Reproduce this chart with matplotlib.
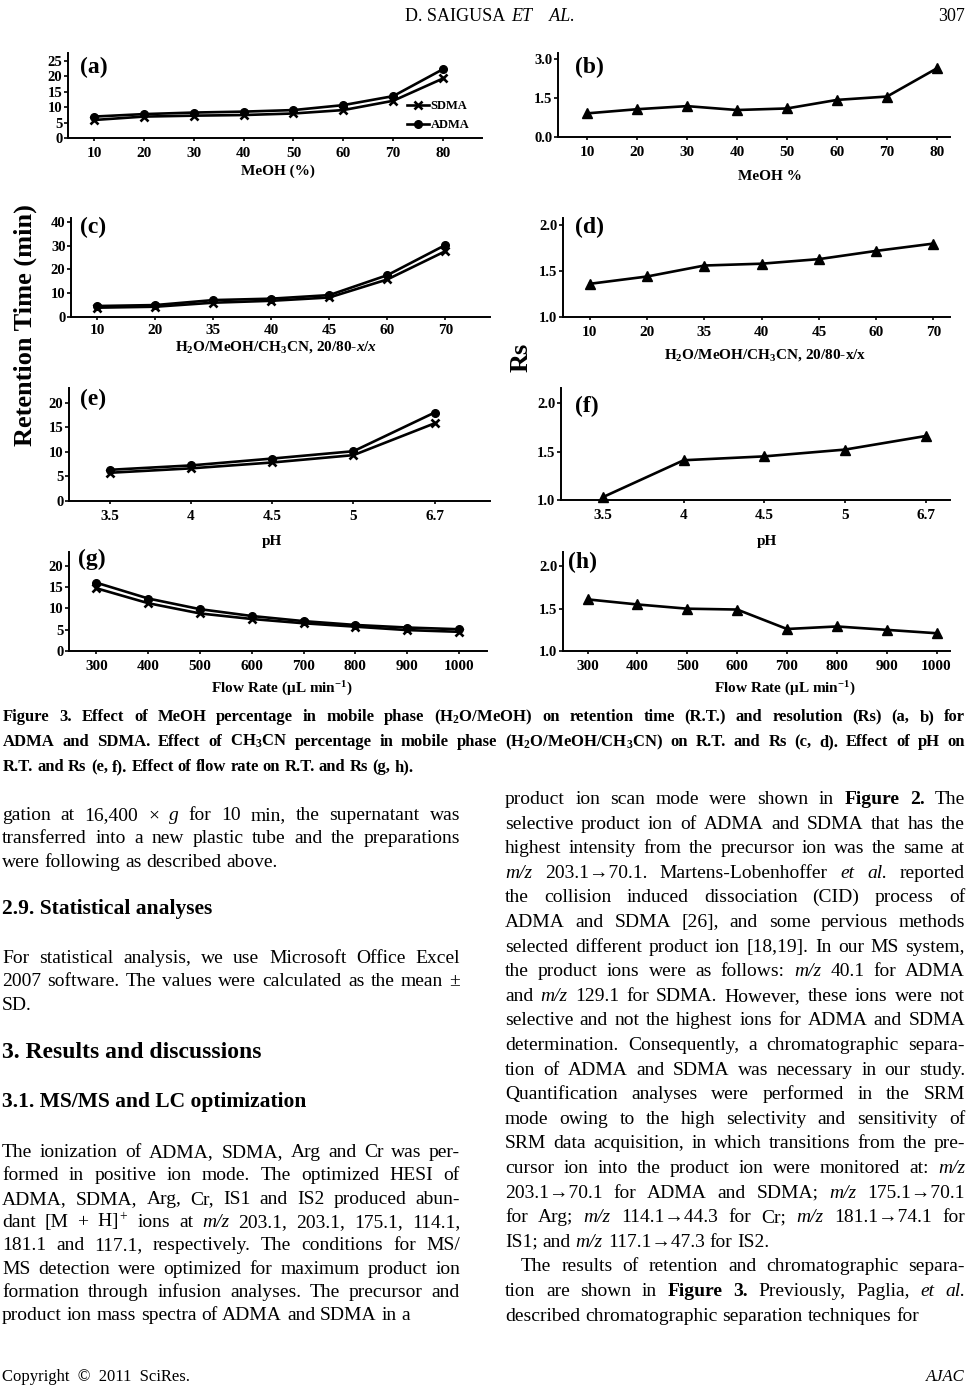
import matplotlib
matplotlib.use("Agg")
import matplotlib.pyplot as plt

W, H = 967, 1386

# --- data ---
meoh_pct = ["10", "20", "30", "40", "50", "60", "70", "80"]
rt_sdma_meoh = [5.9, 7.0, 7.3, 7.5, 8.0, 9.1, 12.1, 19.3]
rt_adma_meoh = [7.0, 7.8, 8.3, 8.6, 9.1, 10.7, 13.6, 22.3]
rs_meoh = [0.90, 1.06, 1.18, 1.03, 1.09, 1.42, 1.55, 2.64]

acn_pct = ["10", "20", "35", "40", "45", "60", "70"]
rt_sdma_acn = [3.8, 4.2, 5.9, 6.7, 8.1, 15.7, 27.6]
rt_adma_acn = [4.5, 4.9, 7.0, 7.6, 9.1, 17.5, 30.2]
rs_acn = [1.36, 1.44, 1.56, 1.58, 1.63, 1.72, 1.80]

ph_values = ["3.5", "4", "4.5", "5", "6.7"]
rt_sdma_ph = [5.7, 6.6, 7.8, 9.3, 15.8]
rt_adma_ph = [6.3, 7.2, 8.6, 10.1, 18.0]
rs_ph = [1.03, 1.41, 1.45, 1.52, 1.66]

flow_rates = ["300", "400", "500", "600", "700", "800", "900", "1000"]
rt_sdma_flow = [14.7, 11.2, 8.8, 7.5, 6.5, 5.7, 4.9, 4.5]
rt_adma_flow = [16.0, 12.3, 9.8, 8.2, 7.0, 6.1, 5.5, 5.1]
rs_flow = [1.61, 1.55, 1.50, 1.49, 1.26, 1.29, 1.25, 1.21]

caption_lines = [
    r"Figure 3. Effect of MeOH percentage in mobile phase $\mathbf{(H_2O/MeOH)}$ on retention time (R.T.) and resolution (Rs) (a, b) for",
    r"ADMA and SDMA. Effect of $\mathbf{CH_3CN}$ percentage in mobile phase $\mathbf{(H_2O/MeOH/CH_3CN)}$ on R.T. and Rs (c, d). Effect of pH on",
    "R.T. and Rs (e, f). Effect of flow rate on R.T. and Rs (g, h).",
]

left_par1 = [
    "gation at 16,400 × _g for 10 min, the supernatant was",
    "transferred into a new plastic tube and the preparations",
    "were following as described above.",
]
left_par2 = [
    "For statistical analysis, we use Microsoft Office Excel",
    "2007 software. The values were calculated as the mean ±",
    "SD.",
]
left_par3 = [
    "The ionization of ADMA, SDMA, Arg and Cr was per-",
    "formed in positive ion mode. The optimized HESI of",
    "ADMA, SDMA, Arg, Cr, IS1 and IS2 produced abun-",
    r"dant [M + H]$^+$ ions at _m/z 203.1, 203.1, 175.1, 114.1,",
    "181.1 and 117.1, respectively. The conditions for MS/",
    "MS detection were optimized for maximum product ion",
    "formation through infusion analyses. The precursor and",
    "product ion mass spectra of ADMA and SDMA in a",
]
right_par1 = [
    "product ion scan mode were shown in *Figure *2. The",
    "selective product ion of ADMA and SDMA that has the",
    "highest intensity from the precursor ion was the same at",
    "_m/z 203.1→70.1. Martens-Lobenhoffer _et _al. reported",
    "the collision induced dissociation (CID) process of",
    "ADMA and SDMA [26], and some pervious methods",
    "selected different product ion [18,19]. In our MS system,",
    "the product ions were as follows: _m/z 40.1 for ADMA",
    "and _m/z 129.1 for SDMA. However, these ions were not",
    "selective and not the highest ions for ADMA and SDMA",
    "determination. Consequently, a chromatographic separa-",
    "tion of ADMA and SDMA was necessary in our study.",
    "Quantification analyses were performed in the SRM",
    "mode owing to the high selectivity and sensitivity of",
    "SRM data acquisition, in which transitions from the pre-",
    "cursor ion into the product ion were monitored at: _m/z",
    "203.1→70.1 for ADMA and SDMA; _m/z 175.1→70.1",
    "for Arg; _m/z 114.1→44.3 for Cr; _m/z 181.1→74.1 for",
    "IS1; and _m/z 117.1→47.3 for IS2.",
]
right_par2 = [
    "The results of retention and chromatographic separa-",
    "tion are shown in *Figure *3. Previously, Paglia, _et _al.",
    "described chromatographic separation techniques for",
]

plt.rcParams["font.family"] = ["Liberation Serif", "DejaVu Serif"]
plt.rcParams["mathtext.fontset"] = "custom"
plt.rcParams["mathtext.rm"] = "Liberation Serif"
plt.rcParams["mathtext.it"] = "Liberation Serif:italic:bold"
plt.rcParams["mathtext.bf"] = "Liberation Serif:bold"


def fx(px):
    return px / W


def fy(py):
    return 1 - py / H


fig = plt.figure(figsize=(W / 100, H / 100), dpi=100)
renderer = fig.canvas.get_renderer()


def make_panel(box, xlim, ylim, yticks, ylabels, xlabels):
    left, top, right, bottom = box
    ax = fig.add_axes([fx(left), fy(bottom), (right - left) / W, (bottom - top) / H])
    ax.set_xlim(*xlim)
    ax.set_ylim(*ylim)
    for s in ("top", "right"):
        ax.spines[s].set_visible(False)
    for s in ("left", "bottom"):
        ax.spines[s].set_linewidth(1.4)
    ax.set_xticks(range(len(xlabels)), labels=xlabels, fontsize=11, fontweight="bold")
    ax.set_yticks(yticks, labels=ylabels, fontsize=10.5, fontweight="bold")
    ax.tick_params(axis="x", direction="out", length=2, width=1.2, pad=4.5)
    ax.tick_params(axis="y", direction="out", length=3, width=1.2, pad=1)
    ax.patch.set_alpha(0)
    return ax


def rt_lines(ax, sdma, adma):
    x = range(len(sdma))
    ax.plot(x, sdma, "-", color="k", lw=1.9, marker="x", ms=6, mew=1.9,
            clip_on=False, label="SDMA")
    ax.plot(x, adma, "-", color="k", lw=1.9, marker="o", ms=5.5,
            clip_on=False, label="ADMA")


def rs_line(ax, rs):
    ax.plot(range(len(rs)), rs, "-", color="k", lw=1.9, marker="^", ms=7,
            clip_on=False)


def fig_text(x, y, s, **kw):
    kw.setdefault("va", "baseline")
    return fig.text(fx(x), fy(y), s, **kw)


# (a)
ax_a = make_panel((68, 53, 482, 138.3), (-0.52, 7.78), (0, 27.5),
                  [0, 5, 10, 15, 20, 25], ["0", "5", "10", "15", "20", "25"], meoh_pct)
rt_lines(ax_a, rt_sdma_meoh, rt_adma_meoh)
ax_a.legend(loc="upper left", bbox_to_anchor=(fx(407), fy(100)),
            bbox_transform=fig.transFigure, frameon=False, borderpad=0,
            borderaxespad=0, handlelength=1.75, handletextpad=0.15,
            labelspacing=0.55, prop={"size": 9, "weight": "bold"})

# (b)
ax_b = make_panel((558, 53, 950, 136.7), (-0.58, 7.26), (0, 3.23),
                  [0, 1.5, 3.0], ["0.0", "1.5", "3.0"], meoh_pct)
rs_line(ax_b, rs_meoh)

# (c)
ax_c = make_panel((71, 218, 490, 316.7), (-0.45, 6.77), (0, 41.6),
                  [0, 10, 20, 30, 40], ["0", "10", "20", "30", "40"], acn_pct)
ax_c.tick_params(axis="x", pad=3)
rt_lines(ax_c, rt_sdma_acn, rt_adma_acn)

# (d)
ax_d = make_panel((563, 218, 950, 316.7), (-0.47, 6.29), (1.0, 2.08),
                  [1.0, 1.5, 2.0], ["1.0", "1.5", "2.0"], acn_pct)
rs_line(ax_d, rs_acn)

# (e)
ax_e = make_panel((69, 388, 490, 500.7), (-0.5, 4.68), (0, 23.0),
                  [0, 5, 10, 15, 20], ["0", "5", "10", "15", "20"], ph_values)
rt_lines(ax_e, rt_sdma_ph, rt_adma_ph)

# (f)
ax_f = make_panel((561, 388, 950, 500), (-0.52, 4.3), (1.0, 2.155),
                  [1.0, 1.5, 2.0], ["1.0", "1.5", "2.0"], ph_values)
rs_line(ax_f, rs_ph)

# (g)
ax_g = make_panel((69, 552, 487, 651), (-0.53, 7.54), (0, 23.2),
                  [0, 5, 10, 15, 20], ["0", "5", "10", "15", "20"], flow_rates)
rt_lines(ax_g, rt_sdma_flow, rt_adma_flow)

# (h)
ax_h = make_panel((562.7, 552, 950, 651), (-0.5, 7.27), (1.0, 2.17),
                  [1.0, 1.5, 2.0], ["1.0", "1.5", "2.0"], flow_rates)
rs_line(ax_h, rs_flow)

# panel letters
for lab, x, y in [("(a)", 80, 73), ("(b)", 575, 73), ("(c)", 80, 233), ("(d)", 575, 233),
                  ("(e)", 80, 405), ("(f)", 575, 412), ("(g)", 78, 565), ("(h)", 568, 568)]:
    fig_text(x, y, lab, fontsize=17, fontweight="bold")

# x axis titles
xl = dict(fontsize=11, fontweight="bold", ha="center")
fig_text(278, 175, "MeOH (%)", **xl)
fig_text(770, 180, "MeOH %", **xl)
fig_text(276, 351, r"H$_\mathbf{2}$O/MeOH/CH$_\mathbf{3}$CN, 20/80-$\mathit{x}$/$\mathit{x}$", **xl)
fig_text(765, 359, r"H$_\mathbf{2}$O/MeOH/CH$_\mathbf{3}$CN, 20/80-x/x", **xl)
fig_text(272, 545, "pH", **xl)
fig_text(767, 545, "pH", **xl)
fig_text(282, 693, r"Flow Rate (μL min$^{\mathbf{-1}}$)", **xl)
fig_text(785, 693, r"Flow Rate (μL min$^{\mathbf{-1}}$)", **xl)

# shared y titles
fig.text(fx(25), fy(325), "Retention Time (min)", fontsize=19, fontweight="bold",
         rotation=90, ha="center", va="center")
fig.text(fx(521), fy(357), "Rs", fontsize=19, fontweight="bold",
         rotation=90, ha="center", va="center")


# --- page text ---
def space_width(size, weight):
    a = fig.text(0, 0, "n n", fontsize=size, fontweight=weight)
    b = fig.text(0, 0, "nn", fontsize=size, fontweight=weight)
    w = a.get_window_extent(renderer).width - b.get_window_extent(renderer).width
    a.remove()
    b.remove()
    return w


def text_line(line, x0, x1, y, size=14, weight="normal", justify=True):
    arts = []
    for tok in line.split(" "):
        style, w = "normal", weight
        if tok.startswith("_"):
            tok, style = tok[1:], "italic"
        elif tok.startswith("*"):
            tok, w = tok[1:], "bold"
        arts.append(fig_text(x0, y, tok, fontsize=size, fontweight=w, fontstyle=style))
    widths = [a.get_window_extent(renderer).width for a in arts]
    if justify and len(arts) > 1:
        gap = (x1 - x0 - sum(widths)) / (len(arts) - 1)
    else:
        gap = space_width(size, weight)
    x = x0
    for a, wd in zip(arts, widths):
        a.set_x(fx(x))
        x += wd + gap


def paragraph(lines, x0, x1, y0, step, size=14, indent=0):
    for i, line in enumerate(lines):
        last = i == len(lines) - 1
        text_line(line, x0 + (indent if i == 0 else 0), x1, y0 + i * step,
                  size=size, justify=not last)


# header and footer
fig_text(505, 21, "D. SAIGUSA", fontsize=13, ha="right")
fig_text(511, 21, "ET    AL.", fontsize=13, fontstyle="italic")
fig_text(965, 21, "307", fontsize=13, ha="right")
fig_text(2, 1381, "Copyright  ©  2011  SciRes.", fontsize=12)
fig_text(965, 1381, "AJAC", fontsize=12, fontstyle="italic", ha="right")

# caption
for i, line in enumerate(caption_lines):
    text_line(line, 3, 965, 721 + i * 25, size=12, weight="bold", justify=i < 2)

# left column
LX0, LX1 = 2, 460
step = 23.3
paragraph(left_par1, LX0, LX1, 820, step)
fig_text(LX0, 914, "2.9. Statistical analyses", fontsize=15.5, fontweight="bold")
paragraph(left_par2, LX0, LX1, 963, step)
fig_text(LX0, 1058, "3. Results and discussions", fontsize=17, fontweight="bold")
fig_text(LX0, 1107, "3.1. MS/MS and LC optimization", fontsize=15.5, fontweight="bold")
paragraph(left_par3, LX0, LX1, 1157, step)

# right column
RX0, RX1 = 505, 965
rstep = 24.6
paragraph(right_par1, RX0, RX1, 804, rstep)
paragraph(right_par2, RX0, RX1, 804 + len(right_par1) * rstep, rstep, indent=16)

fig.savefig("out.png", dpi=100)
